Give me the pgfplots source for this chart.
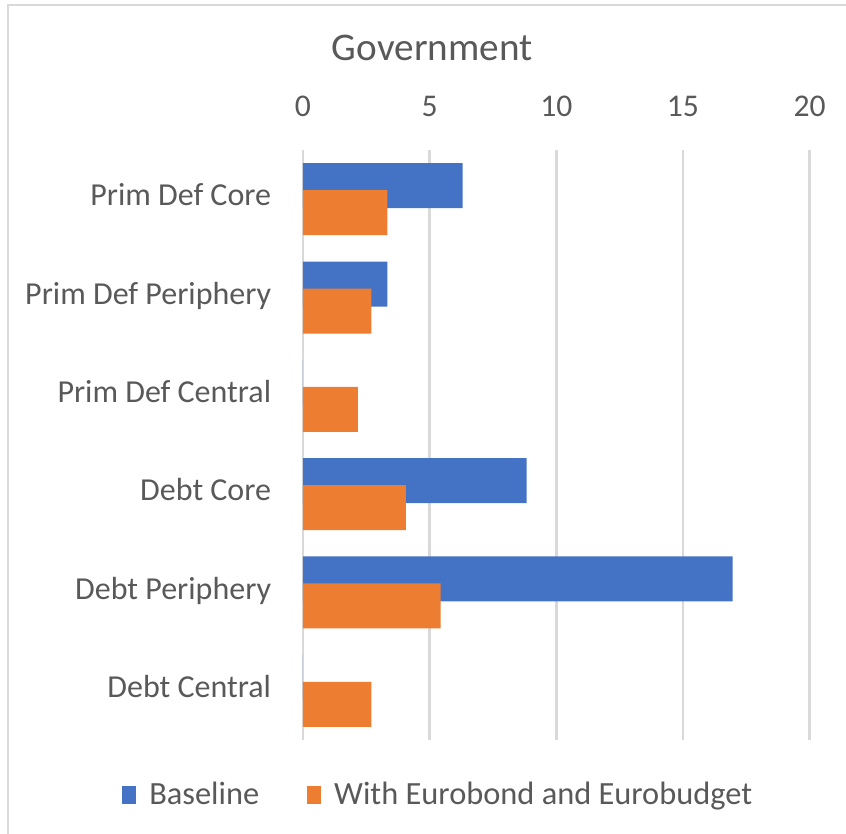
\documentclass[border=0pt]{standalone}
\usepackage{pgfplots}
\pgfplotsset{compat=1.18}
\usepackage{fontspec}
\setmainfont{Carlito}
\definecolor{cblue}{HTML}{4472C4}
\definecolor{corange}{HTML}{ED7D31}
\definecolor{ctext}{HTML}{595959}
\definecolor{cgrid}{HTML}{D9D9D9}
\begin{document}
\begin{tikzpicture}
\useasboundingbox (-151.5pt,-47pt) rectangle (271.5pt,370pt);
\draw[cgrid, line width=1pt] (-147.5pt,-47pt) -- (-147.5pt,367.25pt) -- (271.5pt,367.25pt);
\begin{axis}[
  at={(0,0)}, anchor=south west,
  scale only axis, width=253.3pt, height=295pt,
  xbar, bar width=22.5pt,
  xmin=0, xmax=20, ymin=-0.5, ymax=5.5,
  xtick={0,5,10,15,20},
  xticklabel pos=top,
  ytick={0,1,2,3,4,5},
  yticklabels={Debt Central,Debt Periphery,Debt Core,Prim Def Central,Prim Def Periphery,Prim Def Core},
  /pgf/number format/assume math mode=true,
  axis line style={draw=none},
  tick style={draw=none},
  xmajorgrids, grid style={cgrid, line width=1.3pt},
  xticklabel style={font=\fontsize{15.8}{18}\selectfont, text=ctext, anchor=base, inner sep=0pt, yshift=16.7pt},
  yticklabel style={font=\fontsize{16}{18}\selectfont, text=ctext, anchor=base east, inner sep=0pt, xshift=-11.5pt, yshift=-3.35pt},
  title={Government},
  title style={font=\fontsize{19.6}{24}\selectfont, text=ctext, at={(axis description cs:0.255,1)}, anchor=base, inner sep=0pt, yshift=39pt},
  legend columns=2,
  legend style={draw=none, fill=none, at={(axis description cs:0.269,-0.093)}, anchor=center,
    font=\fontsize{16.2}{18}\selectfont, text=ctext,
    /tikz/every even column/.append style={column sep=22pt}},
  legend image code/.code={\fill[#1] (0pt,-4.5pt) rectangle (7pt,4.5pt); \path (11.5pt,0pt);},
]
\addplot[fill=cblue, draw=none, bar shift=6.75pt] coordinates {(6.3,5) (3.33,4) (0,3) (8.83,2) (16.96,1) (0,0)};
\addlegendentry{Baseline}
\addplot[fill=corange, draw=none, bar shift=-6.75pt] coordinates {(3.33,5) (2.70,4) (2.17,3) (4.06,2) (5.43,1) (2.70,0)};
\addlegendentry{With Eurobond and Eurobudget}
\end{axis}
\end{tikzpicture}
\end{document}
